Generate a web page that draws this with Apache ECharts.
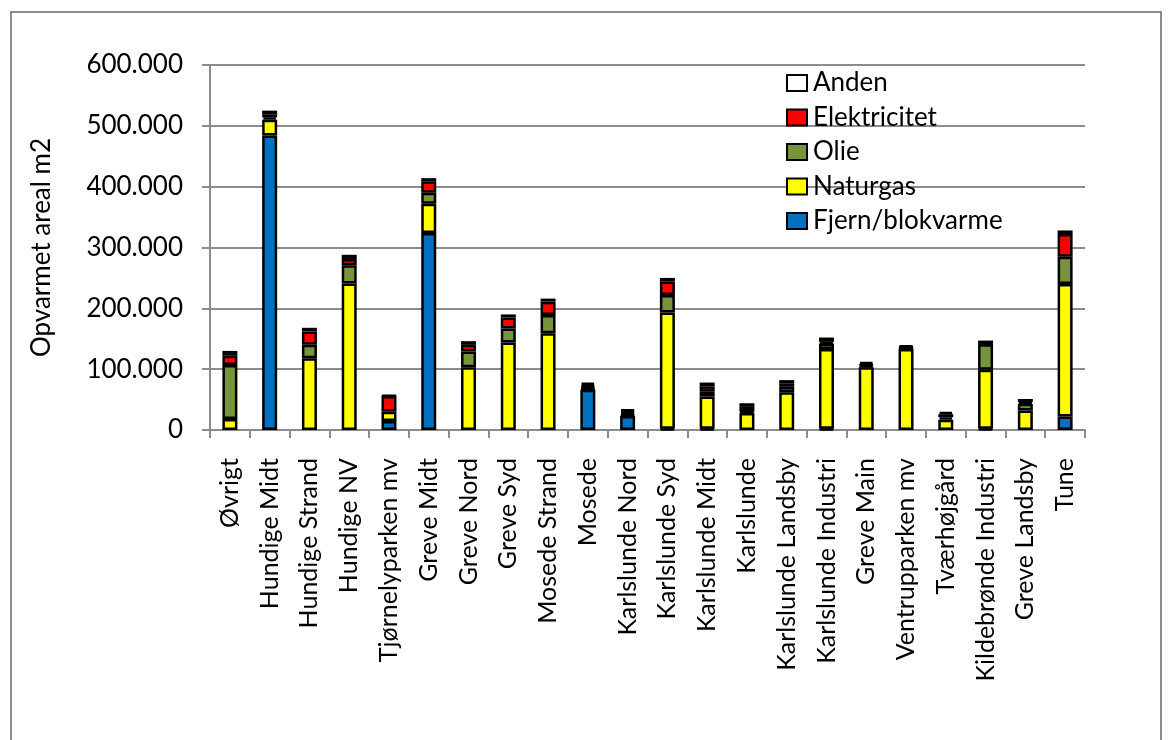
<!DOCTYPE html>
<html>
<head>
<meta charset="utf-8">
<script src="https://cdn.jsdelivr.net/npm/echarts@6/dist/echarts.min.js"></script>
<style>
  html, body { margin: 0; padding: 0; background: #fff; }
  #chart { width: 1168px; height: 740px; }
</style>
</head>
<body>
<div id="chart"></div>
<script>
const categories = ['Øvrigt', 'Hundige Midt', 'Hundige Strand', 'Hundige NV', 'Tjørnelyparken mv',
  'Greve Midt', 'Greve Nord', 'Greve Syd', 'Mosede Strand', 'Mosede', 'Karlslunde Nord',
  'Karlslunde Syd', 'Karlslunde Midt', 'Karlslunde', 'Karlslunde Landsby', 'Karlslunde Industri',
  'Greve Main', 'Ventrupparken mv', 'Tværhøjgård', 'Kildebrønde Industri', 'Greve Landsby', 'Tune'];

const fjern = [0, 484000, 0, 0, 15000, 324000, 0, 0, 0, 66000, 23000, 2000, 2000, 0, 0, 2000, 0, 0, 0, 2000, 0, 22000];
const naturgas = [18000, 26000, 118000, 241000, 15000, 48000, 103000, 144000, 159000, 2000, 2000, 191000, 53000, 28000, 62000, 131000, 103000, 133000, 17000, 97000, 32000, 218000];
const olie = [89000, 4000, 22000, 30000, 0, 18000, 26000, 23000, 30000, 3000, 3000, 29000, 8000, 2000, 9000, 9000, 3000, 2000, 4000, 42000, 11000, 45000];
const elektricitet = [15000, 5000, 22000, 10000, 26000, 19000, 11000, 18000, 22000, 3000, 3000, 22000, 9000, 8000, 5000, 3000, 2000, 1000, 5000, 1000, 3000, 37000];
const anden = [8000, 6000, 6000, 7000, 1000, 5000, 6000, 5000, 5000, 4000, 3000, 6000, 6000, 6000, 6000, 7000, 4000, 3000, 4000, 5000, 5000, 6000];

const yTicks = [0, 100000, 200000, 300000, 400000, 500000, 600000];

const fontName = 'Lato';
const fmt = (v) => String(v).replace(/\B(?=(\d{3})+(?!\d))/g, '.');

const bar = (name, data, color) => ({
  name,
  type: 'bar',
  stack: 'total',
  barWidth: 15,
  data: data.map((v) => (v === 0 ? '-' : v)),
  itemStyle: { color, borderColor: '#000', borderWidth: 2.5 },
});

const chart = echarts.init(document.getElementById('chart'));
chart.setOption({
  animation: false,
  textStyle: { fontFamily: fontName },
  graphic: [{
    type: 'rect',
    shape: { x: 11, y: 12, width: 1150, height: 740 },
    style: { fill: 'none', stroke: '#8c8c8c', lineWidth: 2 },
    silent: true,
  }],
  grid: { left: 210, right: 83, top: 65, bottom: 310 },
  legend: {
    data: ['Anden', 'Elektricitet', 'Olie', 'Naturgas', 'Fjern/blokvarme'],
    orient: 'vertical',
    left: 781,
    top: 65,
    icon: 'rect',
    itemWidth: 20,
    itemHeight: 16,
    itemGap: 8.5,
    textStyle: { fontSize: 26, lineHeight: 26, color: '#000', fontFamily: fontName, padding: [0, 0, 0, 1] },
    itemStyle: { borderColor: '#000', borderWidth: 2 },
  },
  xAxis: {
    type: 'category',
    data: categories,
    axisLine: { lineStyle: { color: '#8c8c8c', width: 2 } },
    axisTick: { show: true, alignWithLabel: false, length: 8, lineStyle: { color: '#8c8c8c', width: 2 } },
    axisLabel: { rotate: 90, fontSize: 25, color: '#000', margin: 28, interval: 0 },
  },
  yAxis: {
    type: 'value',
    min: 0,
    max: 600000,
    interval: 100000,
    name: 'Opvarmet areal m2',
    nameLocation: 'middle',
    nameGap: 155,
    nameTextStyle: { fontSize: 26, color: '#000' },
    axisLine: { show: true, lineStyle: { color: '#8c8c8c', width: 2 } },
    axisTick: { show: true, length: 8, lineStyle: { color: '#8c8c8c', width: 2 } },
    splitLine: { lineStyle: { color: '#8c8c8c', width: 2 } },
    axisLabel: {
      fontSize: 26,
      color: '#000',
      margin: 27,
      formatter: (v) => (yTicks.includes(v) ? fmt(v) : ''),
    },
  },
  series: [
    bar('Fjern/blokvarme', fjern, '#0070C0'),
    bar('Naturgas', naturgas, '#FFFF00'),
    bar('Olie', olie, '#77933C'),
    bar('Elektricitet', elektricitet, '#FF0000'),
    bar('Anden', anden, '#FFFFFF'),
  ],
});
</script>
</body>
</html>
